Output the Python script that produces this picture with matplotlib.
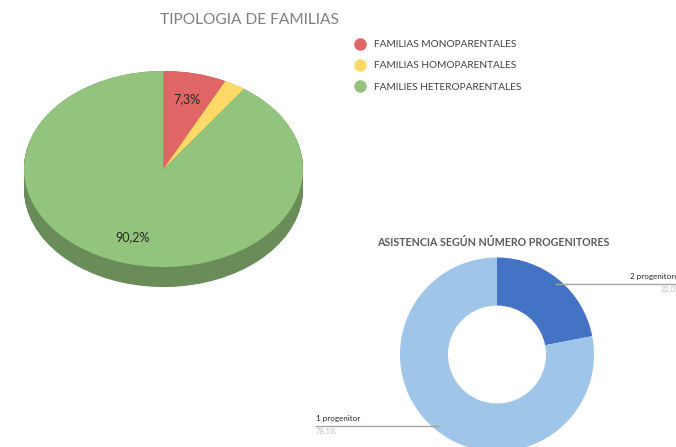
import matplotlib
matplotlib.use("Agg")
import matplotlib.pyplot as plt
from matplotlib.lines import Line2D
import numpy as np

# ---- data ----
fam_labels = ["FAMILIAS MONOPARENTALES", "FAMILIAS HOMOPARENTALES", "FAMILIES HETEROPARENTALES"]
fam_values = [7.3, 2.5, 90.2]
fam_colors = ["#E06666", "#FFD966", "#93C47D"]
fam_side = ["#A84D4D", "#BFA34D", "#6A8C58"]

prog_labels = ["2 progenitores", "1 progenitor"]
prog_values = [22.0, 78.1]
prog_pct = ["22,0%", "78,1%"]
prog_colors = ["#4472C4", "#9FC5E8"]

W, H = 676, 447
fig = plt.figure(figsize=(W / 100, H / 100), dpi=100)
plt.rcParams['font.family'] = ['Lato', 'DejaVu Sans']

def fx(x):
    return x / W

def fy(y):
    return 1 - y / H

# ---- 3D pie ----
depth = 0.204
ax = fig.add_axes([fx(24), fy(287), 279 / W, 216 / H])
for off in np.linspace(-depth, 0, 40):
    ax.pie(fam_values, colors=fam_side, startangle=90, counterclock=False,
           center=(0, off), wedgeprops=dict(linewidth=0))
wedges, texts, autotexts = ax.pie(
    fam_values, colors=fam_colors, startangle=90, counterclock=False,
    center=(0, 0), wedgeprops=dict(linewidth=0),
    autopct=lambda p: (f"{p:.1f}%".replace(".", ",") if p > 5 else ""),
    pctdistance=0.73, textprops=dict(fontsize=9, color="#262626"))
ax.set_aspect("auto")
ax.set_xlim(-1, 1)
ax.set_ylim(-1 - depth, 1)
ax.axis("off")

fig.text(fx(250), fy(19.5), "TIPOLOGIA DE FAMILIAS", ha="center", va="center",
         fontsize=11.2, color="#7F7F7F")

handles = [Line2D([], [], marker="o", linestyle="none", markersize=8,
                  markerfacecolor=c, markeredgecolor=c) for c in fam_colors]
fig.legend(handles, fam_labels, loc="upper left",
           bbox_to_anchor=(fx(350), fy(40)), frameon=False,
           fontsize=7.3, labelcolor="#404040", handletextpad=0.35,
           labelspacing=1.2, borderaxespad=0, borderpad=0)

# ---- donut ----
r = 97
cx, cy = 497, 354.5
ax2 = fig.add_axes([fx(cx - r), fy(cy + r), 2 * r / W, 2 * r / H])
ax2.pie(prog_values, colors=prog_colors, startangle=90, counterclock=False,
        wedgeprops=dict(width=0.495, linewidth=0))
ax2.set_aspect("auto")
ax2.set_xlim(-1, 1)
ax2.set_ylim(-1, 1)
ax2.axis("off")

fig.text(fx(493), fy(243), "ASISTENCIA SEGÚN NÚMERO PROGENITORES", ha="center",
         va="center", fontsize=7.7, fontweight="bold", color="#595959")

# leader lines
fig.add_artist(Line2D([fx(556), fx(676)], [fy(283.5), fy(283.5)], color="#A6A6A6", lw=1))
fig.add_artist(Line2D([fx(316), fx(439)], [fy(426), fy(426)], color="#A6A6A6", lw=1))
fig.text(fx(630), fy(276.5), prog_labels[0], ha="left", va="center",
         fontsize=5.8, color="#262626")
fig.text(fx(661), fy(289.5), prog_pct[0], ha="left", va="center",
         fontsize=5.5, color="#BFBFBF")
fig.text(fx(316), fy(419), prog_labels[1], ha="left", va="center",
         fontsize=5.8, color="#262626")
fig.text(fx(316), fy(431), prog_pct[1], ha="left", va="center",
         fontsize=5.5, color="#BFBFBF")

fig.savefig("out.png", dpi=100)
